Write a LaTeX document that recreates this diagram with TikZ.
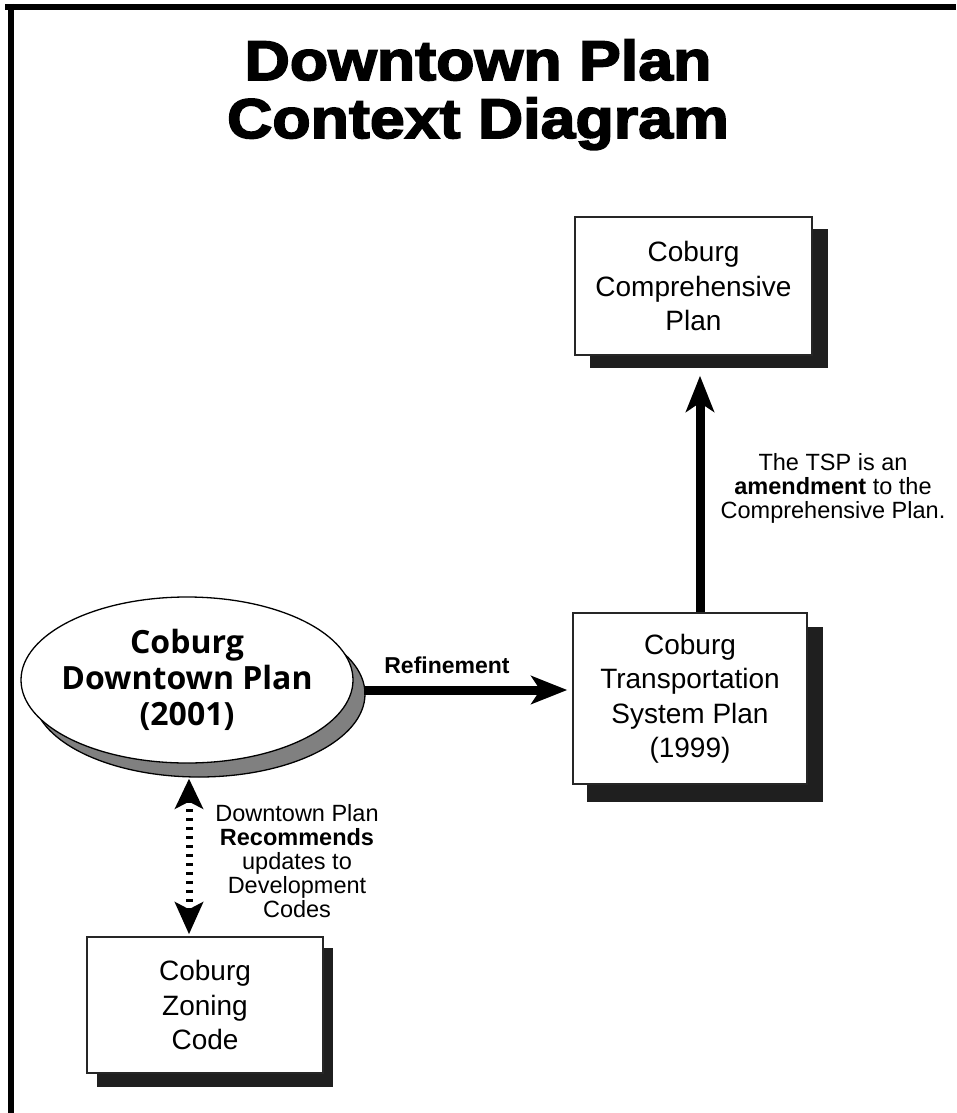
\documentclass[tikz,border=0pt]{standalone}
\usepackage{fontspec}
\setmainfont{Liberation Sans}
\newfontfamily\titlefont{Liberation Sans Bold}[FakeStretch=1.12,FakeBold=3]
\newfontfamily\ellfont{Open Sans Bold}
\usetikzlibrary{arrows.meta,shapes.geometric}
\begin{document}
\begin{tikzpicture}[x=1pt,y=-1pt,
  plainbox/.style={draw=black!85,line width=1.5pt,fill=white,minimum width=#1,align=center,inner sep=0pt,
     font=\fontsize{28}{34.5}\selectfont},
  shadowbox/.style={fill=black!88,draw=none},
  note/.style={align=center,inner sep=0pt,font=\fontsize{23.5}{24}\selectfont},
  bigarrow/.style={line width=9pt,-{Stealth[length=36pt,width=28pt,inset=9pt]}},
  dasharrow/.style={line width=7pt,dash pattern=on 3pt off 6pt,
     {Stealth[length=30pt,width=28pt,inset=7pt]}-{Stealth[length=32pt,width=28pt,inset=7pt]}}
]
\useasboundingbox (0,0) rectangle (956,1113);
% frame
\draw[line width=6pt] (5,7) -- (956,7);
\draw[line width=6pt] (11,4) -- (11,1113);
% title
\node[font=\titlefont\fontsize{56}{58}\selectfont,align=center,anchor=base] (title) at (478,138) {Downtown Plan\\Context Diagram};
% shadows
\fill[shadowbox] (590,229) rectangle (828,368);
\fill[shadowbox] (587,627) rectangle (823,802);
\fill[shadowbox] (97,948) rectangle (333,1087);
\draw[fill=black!50,line width=1.3pt] (199,694) ellipse [x radius=166pt,y radius=83pt];
% boxes
\node[plainbox=237pt,minimum height=138pt] (comp) at (693.5,286) {Coburg\\Comprehensive\\Plan};
\node[plainbox=234pt,minimum height=171pt] (tsp) at (690,698.5) {Coburg\\Transportation\\System Plan\\(1999)};
\node[plainbox=236pt,minimum height=136pt] (zone) at (205,1005) {Coburg\\Zoning\\Code};
\node[draw=black,line width=1.3pt,fill=white,ellipse,minimum width=332pt,minimum height=166pt,inner sep=-40pt,
  align=center,font=\ellfont\fontsize{32}{36}\selectfont] (ell) at (187,680) {Coburg\\Downtown Plan\\(2001)};
% connectors
\draw[bigarrow] ([xshift=10pt]tsp.north) -- ([xshift=6.5pt,yshift=-20pt]comp.south);
\draw[bigarrow] ([xshift=10pt,yshift=-10pt]ell.east) -- ([xshift=-5pt,yshift=8.5pt]tsp.west);
\draw[dasharrow] ([xshift=2pt,yshift=-15pt]ell.south) -- ([xshift=-16pt,yshift=2pt]zone.north);
% labels
\node[font=\bfseries\fontsize{23}{24}\selectfont,anchor=base,inner sep=0pt] (refl) at (447,673) {Refinement};
\node[note,anchor=base] (amend) at (833,518) {The TSP is an\\\textbf{amendment} to the\\Comprehensive Plan.};
\node[note,anchor=base] (recom) at (297,917) {Downtown Plan\\\textbf{Recommends}\\updates to\\Development\\Codes};
\end{tikzpicture}
\end{document}
